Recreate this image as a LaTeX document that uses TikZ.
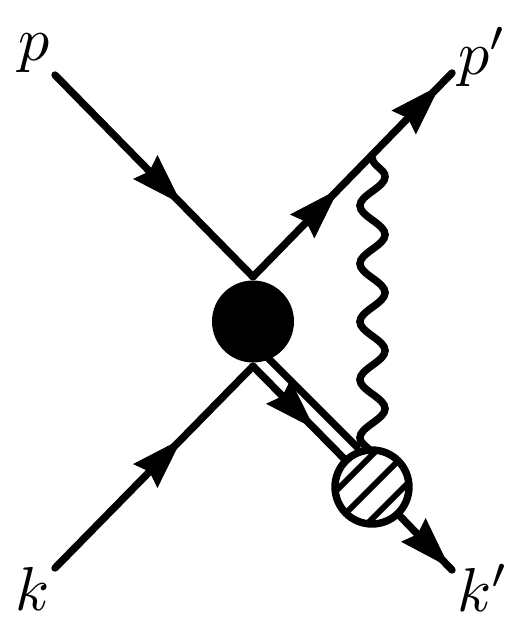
\documentclass[tikz,border=0pt]{standalone}
\usepackage{amsmath}
\usetikzlibrary{arrows.meta,decorations.markings,decorations.pathmorphing}

\begin{document}
\begin{tikzpicture}[x=0.5pt,y=-0.5pt,line width=3.7pt,line cap=round,
  tip/.style={postaction={decorate,decoration={markings,
    mark=at position #1 with {\arrow[line width=0.4pt]{Stealth[length=26pt,width=17pt,inset=3pt]}}}}},
  blobnode/.style={circle,fill=black,minimum size=41pt,inner sep=0pt},
  hatchnode/.style={circle,draw,fill=white,minimum size=37pt,inner sep=0pt,path picture={
    \foreach \d in {-16,0,16}{
      \draw[line width=3pt] ([shift={(\d-50,\d+50)}]path picture bounding box.center)
        -- ([shift={(\d+50,\d-50)}]path picture bounding box.center);}}},
  lab/.style={inner sep=0pt,scale=3.1}]
\useasboundingbox (0,0) rectangle (507,618);
\node[blobnode] (blob) at (253,321.5) {};
\coordinate (hatchc) at (372,487);
\coordinate (pin) at (55,75);
\coordinate (pout) at (452,73);
\coordinate (kin) at (55,568);
\coordinate (kout) at (452,570);
\coordinate (dblA) at (268,358);
\coordinate (dblB) at (357,447);
\coordinate (gamA) at (372.5,158.5);
\coordinate (gamB) at (372.5,480);
\node[lab] (plab) at (34,53) {$p$};
\node[lab] (pplab) at (483,57) {$p'$};
\node[lab] (klab) at (33,589) {$k$};
\node[lab] (kplab) at (483,588) {$k'$};
% fermion lines
\draw[tip=.64] (pin) -- (blob.north);
\draw[tip=.43,tip=.94] (blob.north) -- (pout);
\draw[tip=.64] (kin) -- (blob.south);
\draw[tip=.52] (blob.south) -- (hatchc);
\draw (dblA) -- (dblB);
\draw[tip=.97] (hatchc) -- (kout);
% photon
\draw[decorate,decoration={snake,segment length=29pt,amplitude=6.3pt}] (gamA) -- (gamB);
\node[hatchnode] (hatch) at (hatchc) {};
\end{tikzpicture}
\end{document}
